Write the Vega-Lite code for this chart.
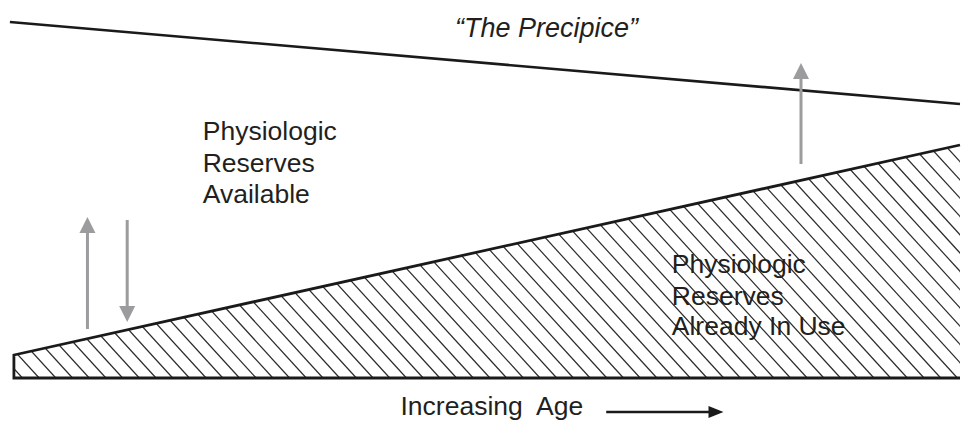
{
  "$schema": "https://vega.github.io/schema/vega-lite/v6.json",
  "width": 966,
  "height": 422,
  "autosize": {"type": "fit", "contains": "padding"},
  "padding": 0,
  "background": "white",
  "config": {"view": {"stroke": null}},
  "datasets": {
    "hatch": [
      {"bottom": 22.6, "top": -198.2}, {"bottom": 39.4, "top": -181.4}, {"bottom": 56.2, "top": -164.6},
      {"bottom": 73.0, "top": -147.8}, {"bottom": 89.8, "top": -131.0}, {"bottom": 106.6, "top": -114.2},
      {"bottom": 123.4, "top": -97.4}, {"bottom": 140.2, "top": -80.6}, {"bottom": 157.0, "top": -63.8},
      {"bottom": 173.8, "top": -47.0}, {"bottom": 190.6, "top": -30.2}, {"bottom": 207.4, "top": -13.4},
      {"bottom": 224.2, "top": 3.4}, {"bottom": 241.0, "top": 20.2}, {"bottom": 257.8, "top": 37.0},
      {"bottom": 274.6, "top": 53.8}, {"bottom": 291.4, "top": 70.6}, {"bottom": 308.2, "top": 87.4},
      {"bottom": 325.0, "top": 104.2}, {"bottom": 341.8, "top": 121.0}, {"bottom": 358.6, "top": 137.8},
      {"bottom": 375.4, "top": 154.6}, {"bottom": 392.2, "top": 171.4}, {"bottom": 409.0, "top": 188.2},
      {"bottom": 425.8, "top": 205.0}, {"bottom": 442.6, "top": 221.8}, {"bottom": 459.4, "top": 238.6},
      {"bottom": 476.2, "top": 255.4}, {"bottom": 493.0, "top": 272.2}, {"bottom": 509.8, "top": 289.0},
      {"bottom": 526.6, "top": 305.8}, {"bottom": 543.4, "top": 322.6}, {"bottom": 560.2, "top": 339.4},
      {"bottom": 577.0, "top": 356.2}, {"bottom": 593.8, "top": 373.0}, {"bottom": 610.6, "top": 389.8},
      {"bottom": 627.4, "top": 406.6}, {"bottom": 644.2, "top": 423.4}, {"bottom": 661.0, "top": 440.2},
      {"bottom": 677.8, "top": 457.0}, {"bottom": 694.6, "top": 473.8}, {"bottom": 711.4, "top": 490.6},
      {"bottom": 728.2, "top": 507.4}, {"bottom": 745.0, "top": 524.2}, {"bottom": 761.8, "top": 541.0},
      {"bottom": 778.6, "top": 557.8}, {"bottom": 795.4, "top": 574.6}, {"bottom": 812.2, "top": 591.4},
      {"bottom": 829.0, "top": 608.2}, {"bottom": 845.8, "top": 625.0}, {"bottom": 862.6, "top": 641.8},
      {"bottom": 879.4, "top": 658.6}, {"bottom": 896.2, "top": 675.4}, {"bottom": 913.0, "top": 692.2},
      {"bottom": 929.8, "top": 709.0}, {"bottom": 946.6, "top": 725.8}, {"bottom": 963.4, "top": 742.6},
      {"bottom": 980.2, "top": 759.4}, {"bottom": 997.0, "top": 776.2}, {"bottom": 1013.8, "top": 793.0},
      {"bottom": 1030.6, "top": 809.8}, {"bottom": 1047.4, "top": 826.6}, {"bottom": 1064.2, "top": 843.4},
      {"bottom": 1081.0, "top": 860.2}, {"bottom": 1097.8, "top": 877.0}, {"bottom": 1114.6, "top": 893.8},
      {"bottom": 1131.4, "top": 910.6}, {"bottom": 1148.2, "top": 927.4}, {"bottom": 1165.0, "top": 944.2},
      {"bottom": 1181.8, "top": 961.0}
    ],
    "inUse": [
      {"age": 12, "level": 66.6},
      {"age": 966, "level": 277}
    ],
    "outline": [
      {"age": 966, "level": 44, "k": 0},
      {"age": 14, "level": 44, "k": 1},
      {"age": 14, "level": 67, "k": 2},
      {"age": 966, "level": 277, "k": 3}
    ],
    "precipice": [
      {"age": 10, "level": 400},
      {"age": 966, "level": 318}
    ],
    "arrows": [
      {"age": 88, "tail": 93, "head": 197, "dir": "up"},
      {"age": 128, "tail": 202, "head": 108, "dir": "down"},
      {"age": 806, "tail": 258, "head": 351, "dir": "up"}
    ],
    "ageArrow": [
      {"from": 610, "to": 720.5, "level": 10}
    ],
    "labels": [
      {"age": 204, "level": 282, "text": "Physiologic"},
      {"age": 204, "level": 250.3, "text": "Reserves"},
      {"age": 204, "level": 219.3, "text": "Available"},
      {"age": 676, "level": 148.7, "text": "Physiologic"},
      {"age": 676, "level": 117, "text": "Reserves"},
      {"age": 676, "level": 87, "text": "Already In Use"},
      {"age": 403, "level": 7, "text": "Increasing\u00a0 Age"}
    ],
    "title": [
      {"age": 550, "level": 385.3, "text": "“The Precipice”"}
    ]
  },
  "layer": [
    {
      "data": {"name": "hatch"},
      "mark": {"type": "rule", "color": "#2b2b2b", "strokeWidth": 1.2, "clip": true},
      "encoding": {
        "x": {"field": "bottom", "type": "quantitative", "scale": {"domain": [0, 966], "nice": false, "zero": false}, "axis": null},
        "x2": {"field": "top"},
        "y": {"datum": 44, "type": "quantitative", "scale": {"domain": [0, 422], "nice": false, "zero": false}, "axis": null},
        "y2": {"datum": 284}
      }
    },
    {
      "data": {"name": "inUse"},
      "mark": {"type": "area", "color": "white", "opacity": 1},
      "encoding": {
        "x": {"field": "age", "type": "quantitative"},
        "y": {"field": "level", "type": "quantitative"},
        "y2": {"datum": 422}
      }
    },
    {
      "data": {"values": [{"edge": "left"}]},
      "mark": {"type": "rect", "color": "white", "opacity": 1},
      "encoding": {
        "x": {"datum": 0, "type": "quantitative"},
        "x2": {"datum": 14.5},
        "y": {"datum": 0, "type": "quantitative"},
        "y2": {"datum": 422}
      }
    },
    {
      "data": {"name": "outline"},
      "mark": {"type": "line", "color": "#1a1a1a", "strokeWidth": 2.8, "strokeJoin": "miter"},
      "encoding": {
        "x": {"field": "age", "type": "quantitative"},
        "y": {"field": "level", "type": "quantitative"},
        "order": {"field": "k", "type": "quantitative"}
      }
    },
    {
      "data": {"name": "precipice"},
      "mark": {"type": "line", "color": "#1a1a1a", "strokeWidth": 2.6},
      "encoding": {
        "x": {"field": "age", "type": "quantitative"},
        "y": {"field": "level", "type": "quantitative"}
      }
    },
    {
      "data": {"name": "arrows"},
      "mark": {"type": "rule", "color": "#9c9c9e", "strokeWidth": 3},
      "encoding": {
        "x": {"field": "age", "type": "quantitative"},
        "y": {"field": "tail", "type": "quantitative"},
        "y2": {"field": "head"}
      }
    },
    {
      "data": {"name": "arrows"},
      "mark": {"type": "point", "filled": true, "color": "#9c9c9e", "opacity": 1, "size": 256},
      "encoding": {
        "x": {"field": "age", "type": "quantitative"},
        "y": {"field": "head", "type": "quantitative"},
        "shape": {"field": "dir", "type": "nominal", "scale": {"domain": ["up", "down"], "range": ["M0,-1L1,1L-1,1Z", "M0,1L1,-1L-1,-1Z"]}, "legend": null}
      }
    },
    {
      "data": {"name": "ageArrow"},
      "mark": {"type": "rule", "color": "#1a1a1a", "strokeWidth": 2.6},
      "encoding": {
        "x": {"field": "from", "type": "quantitative"},
        "x2": {"field": "to"},
        "y": {"field": "level", "type": "quantitative"}
      }
    },
    {
      "data": {"name": "ageArrow"},
      "mark": {"type": "point", "filled": true, "color": "#1a1a1a", "opacity": 1, "size": 225, "shape": "M-1,-0.8L1,0L-1,0.8Z"},
      "encoding": {
        "x": {"field": "to", "type": "quantitative"},
        "y": {"field": "level", "type": "quantitative"}
      }
    },
    {
      "data": {"name": "labels"},
      "mark": {"type": "text", "align": "left", "baseline": "alphabetic", "font": "Liberation Sans", "fontSize": 26.5, "color": "#231f20"},
      "encoding": {
        "x": {"field": "age", "type": "quantitative"},
        "y": {"field": "level", "type": "quantitative"},
        "text": {"field": "text", "type": "nominal"}
      }
    },
    {
      "data": {"name": "title"},
      "mark": {"type": "text", "align": "center", "baseline": "alphabetic", "font": "Liberation Sans", "fontSize": 27, "fontStyle": "italic", "color": "#231f20"},
      "encoding": {
        "x": {"field": "age", "type": "quantitative"},
        "y": {"field": "level", "type": "quantitative"},
        "text": {"field": "text", "type": "nominal"}
      }
    }
  ]
}
